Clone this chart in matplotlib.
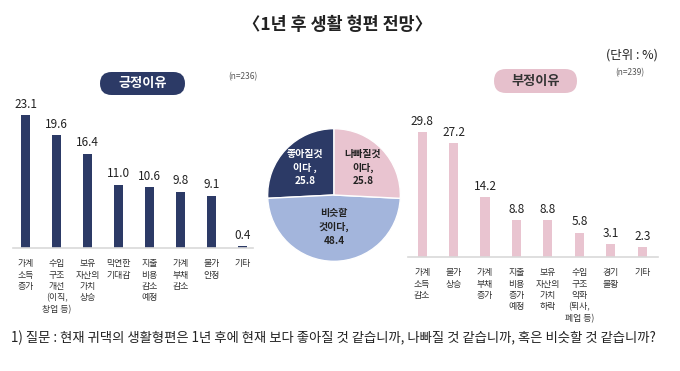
import matplotlib
matplotlib.use("Agg")
import matplotlib.pyplot as plt
from matplotlib.patches import FancyBboxPatch
import numpy as np

plt.rcParams['font.family'] = ['Noto Sans CJK KR', 'DejaVu Sans']

W, H = 680, 371

# data
pos_labels = ["가계\n소득\n증가", "수입\n구조\n개선\n(이직,\n창업 등)", "보유\n자산의\n가치\n상승",
              "막연한\n기대감", "지출\n비용\n감소\n예정", "가계\n부채\n감소", "물가\n안정", "기타"]
pos_values = [23.1, 19.6, 16.4, 11.0, 10.6, 9.8, 9.1, 0.4]

neg_labels = ["가계\n소득\n감소", "물가\n상승", "가계\n부채\n증가", "지출\n비용\n증가\n예정",
              "보유\n자산의\n가치\n하락", "수입\n구조\n악화\n(퇴사,\n폐업 등)", "경기\n불황", "기타"]
neg_values = [29.8, 27.2, 14.2, 8.8, 8.8, 5.8, 3.1, 2.3]

pie_labels = ["좋아질것\n이다 ,\n25.8", "비슷할\n것이다,\n48.4", "나빠질것\n이다,\n25.8"]
pie_values = [25.8, 48.4, 25.8]

NAVY = "#2c3a66"
PINK = "#e9c4d0"
LIGHTBLUE = "#a3b5dc"
TEXT = "#222222"


def px_axes(fig, left, top, width, height):
    """add axes using pixel box measured from the top-left corner"""
    return fig.add_axes([left / W, 1 - (top + height) / H, width / W, height / H])


def bar_panel(ax, labels, values, color, xlim, ylim):
    x = np.arange(len(values))
    ax.bar(x, values, width=0.29, color=color, zorder=2)
    for xi, v in zip(x, values):
        ax.annotate(f"{v:.1f}", (xi, v), xytext=(0, 3), textcoords="offset points",
                    ha="center", va="bottom", fontsize=8.5, color=TEXT)
    ax.set_xlim(*xlim)
    ax.set_ylim(*ylim)
    ax.set_xticks(x)
    ax.set_xticklabels(labels, fontsize=6.4, color="#333333", linespacing=1.35, va="top")
    ax.tick_params(axis="x", length=0, pad=8)
    ax.set_yticks([])
    for s in ["top", "right", "left"]:
        ax.spines[s].set_visible(False)
    ax.spines["bottom"].set_color("#d9d9d9")
    ax.spines["bottom"].set_linewidth(1.2)
    ax.patch.set_alpha(0)


def badge(fig, left, top, width, height, text, fc, tc):
    box = FancyBboxPatch((left / 100, (H - top - height) / 100), width / 100, height / 100,
                         boxstyle=f"round,pad=0,rounding_size={height / 200}",
                         transform=fig.dpi_scale_trans, fc=fc, ec="none")
    fig.add_artist(box)
    fig.text((left + width / 2) / W, 1 - (top + height / 2) / H, text, ha="center", va="center",
             fontsize=9.5, fontweight="bold", color=tc)


fig = plt.figure(figsize=(W / 100, H / 100), dpi=100)

fig.text(0.497, 1 - 25 / H, "〈1년 후 생활 형편 전망〉", ha="center", va="center",
         fontsize=12.5, fontweight="bold", color=TEXT)
fig.text(658 / W, 1 - 55 / H, "(단위 : %)", ha="right", va="center", fontsize=9, color=TEXT)

# left panel
badge(fig, 100, 72, 85, 23, "긍정이유", NAVY, "white")
fig.text(228 / W, 1 - 77 / H, "(n=236)", ha="left", va="center", fontsize=6, color="#555555")
ax1 = px_axes(fig, 13, 100, 240, 148)
bar_panel(ax1, pos_labels, pos_values, NAVY, (-0.42, 7.35), (0, 148 / 5.76))

# right panel
badge(fig, 494, 69, 83, 24, "부정이유", "#e6c0cc", "#333333")
fig.text(615 / W, 1 - 73 / H, "(n=239)", ha="left", va="center", fontsize=6, color="#555555")
ax2 = px_axes(fig, 408, 120, 250, 137)
bar_panel(ax2, neg_labels, neg_values, PINK, (-0.45, 7.5), (0, 137 / 4.2))

# pie
ax3 = px_axes(fig, 334 - 67, 195 - 67, 134, 134)
wedges, _ = ax3.pie(pie_values, colors=[NAVY, LIGHTBLUE, PINK], startangle=90,
                    counterclock=True, radius=1,
                    wedgeprops=dict(edgecolor="white", linewidth=1))
label_r = [0.6, 0.48, 0.6]
label_c = ["white", TEXT, TEXT]
for w, lab, r, c in zip(wedges, pie_labels, label_r, label_c):
    ang = np.deg2rad((w.theta1 + w.theta2) / 2)
    ax3.text(r * np.cos(ang), r * np.sin(ang), lab, ha="center", va="center",
             fontsize=7.2, fontweight="bold", color=c, linespacing=1.45)
ax3.set_xlim(-1.01, 1.01)
ax3.set_ylim(-1.01, 1.01)
ax3.set_aspect("equal")

fig.text(11 / W, 1 - 338 / H,
         "1) 질문 : 현재 귀댁의 생활형편은 1년 후에 현재 보다 좋아질 것 같습니까, 나빠질 것 같습니까, 혹은 비슷할 것 같습니까?",
         ha="left", va="center", fontsize=9.6, color=TEXT)

fig.savefig("out.png", dpi=100)
